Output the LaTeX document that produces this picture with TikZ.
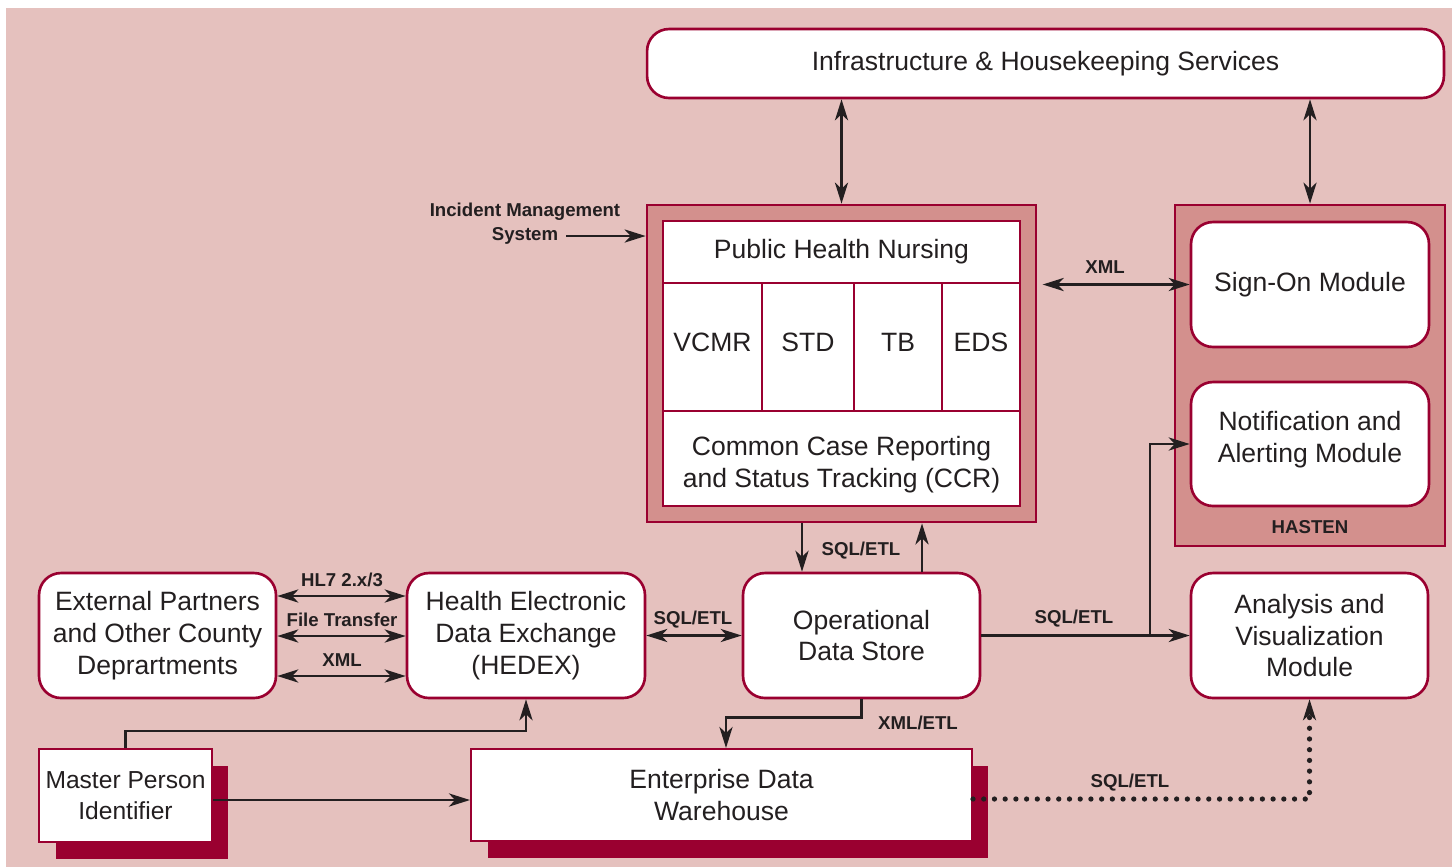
\documentclass[tikz,border=0pt]{standalone}
\usepackage{fontspec}
\setmainfont{Liberation Sans}
\usetikzlibrary{arrows.meta,shadows}
\definecolor{bg}{HTML}{E5C1BE}
\definecolor{panel}{HTML}{D3908D}
\definecolor{crim}{HTML}{9A0030}
\definecolor{ink}{HTML}{231F20}
\begin{document}
\begin{tikzpicture}[x=0.02cm,y=-0.02cm,
  txt/.style={font=\fontsize{15.1}{18.1}\selectfont, text=ink, align=center},
  lbl/.style={font=\bfseries\fontsize{10.6}{13.6}\selectfont, text=ink, align=center, inner sep=0pt},
  rbox/.style={txt, draw=crim, line width=1.5pt, fill=white, rounded corners=0.44cm, inner sep=0pt},
  panelbox/.style={draw=crim, line width=1.6pt, fill=panel, inner sep=0pt},
  cell/.style={txt, draw=crim, line width=1.2pt, fill=white, inner sep=0pt},
  upcell/.style={cell, text depth=5.6pt},
  sbox/.style={txt, draw=crim, line width=1.2pt, fill=white, inner sep=0pt,
     drop shadow={shadow xshift=0.33cm, shadow yshift=-0.33cm, fill=crim, opacity=1}},
  conn/.style={draw=ink, line width=1.4pt},
  tip/.style={},
  arr/.style={conn, -{Stealth[length=12pt,width=7.5pt,inset=3.5pt]}},
  darr/.style={conn, {Stealth[length=12pt,width=7.5pt,inset=3.5pt]}-{Stealth[length=12pt,width=7.5pt,inset=3.5pt]}},
  dotarr/.style={draw=ink, line width=3pt, line cap=round, dash pattern=on 0pt off 6.1pt,
     -{Stealth[length=12pt,width=7.5pt,inset=3.5pt,line width=1.4pt]}},
]
\useasboundingbox (0,0) rectangle (1452,867);
\fill[white] (0,0) rectangle (1452,867);
\fill[bg] (6,8) rectangle (1452,867);

% top
\node[rbox, minimum width=15.94cm, minimum height=1.38cm] (infra) at (1045.5,63.5) {Infrastructure \& Housekeeping Services};

% PHN panel
\node[panelbox, minimum width=7.78cm, minimum height=6.34cm] (phnout) at (841.5,363.5) {};
\node[cell, minimum width=7.14cm, minimum height=1.24cm] (phn) at (841.5,252) {Public Health Nursing};
\node[upcell, minimum width=1.98cm, minimum height=2.56cm] (vcmr) at (712.5,347) {VCMR};
\node[upcell, minimum width=1.84cm, minimum height=2.56cm] (std) at (808,347) {STD};
\node[upcell, minimum width=1.76cm, minimum height=2.56cm] (tb) at (898,347) {TB};
\node[upcell, minimum width=1.56cm, minimum height=2.56cm] (eds) at (981,347) {EDS};
\node[cell, minimum width=7.14cm, minimum height=1.9cm,
  label={[txt, yshift=-3.4pt]center:Common Case Reporting\\and Status Tracking (CCR)}] (ccr) at (841.5,458.5) {};

% HASTEN panel
\node[panelbox, minimum width=5.4cm, minimum height=6.82cm] (hastenout) at (1310,375.5) {};
\node[rbox, minimum width=4.76cm, minimum height=2.5cm] (signon) at (1310,284.5) {Sign-On Module};
\node[rbox, minimum width=4.76cm, minimum height=2.48cm,
  label={[txt, yshift=2.3pt]center:Notification and\\Alerting Module}] (notif) at (1310,444) {};
\node[lbl] (hasten) at (1310,527) {HASTEN};

% middle row
\node[rbox, minimum width=4.74cm, minimum height=2.5cm] (ext) at (157.5,635.5) {External Partners\\and Other County\\Deprartments};
\node[rbox, minimum width=4.76cm, minimum height=2.5cm] (hedex) at (526,635.5) {Health Electronic\\Data Exchange\\(HEDEX)};
\node[rbox, minimum width=4.74cm, minimum height=2.5cm] (ods) at (861.5,635.5) {Operational\\Data Store};
\node[rbox, minimum width=4.74cm, minimum height=2.5cm] (ana) at (1309.5,635.5) {Analysis and\\Visualization\\Module};

% bottom row
\node[sbox, minimum width=3.46cm, minimum height=1.86cm, font=\fontsize{14}{17.6}\selectfont] (mpi) at (125.5,795.5) {Master Person\\Identifier};
\node[sbox, minimum width=10.02cm, minimum height=1.84cm] (edw) at (721.5,795) {Enterprise Data\\Warehouse};

% helper coordinates
\coordinate (incA) at (566,236);
\coordinate (dx) at (802,0);
\coordinate (ux) at (922,0);
\coordinate (y1) at (0,596);
\coordinate (y2) at (0,636);
\coordinate (y3) at (0,676);
\coordinate (j) at (1150,635.5);
\coordinate (ey) at (0,800);
\coordinate (ex) at (726,0);
\coordinate (dy) at (0,799);

% connectors
\draw[darr] (infra.south -| phnout.north) -- (phnout.north);
\draw[darr] (infra.south -| hastenout.north) -- (hastenout.north);
\draw[darr] ([xshift=3pt]phnout.east |- signon.west) -- (signon.west);
\node[lbl] (lxml) at (1105,267) {XML};

\node[lbl] (inc) at (525,224) {Incident Management\\System};
\draw[arr] (incA) -- (incA -| phnout.west);

\draw[arr] (phnout.south -| dx) -- (ods.north -| dx);
\draw[arr] (ods.north -| ux) -- (phnout.south -| ux);
\node[lbl] (lsql1) at (861,551) {SQL/ETL};

\draw[darr] (ext.east |- y1) -- (hedex.west |- y1);
\draw[darr] (ext.east |- y2) -- (hedex.west |- y2);
\draw[darr] (ext.east |- y3) -- (hedex.west |- y3);
\node[lbl] (lhl7) at (342,580) {HL7 2.x/3};
\node[lbl] (lft) at (342,620) {File Transfer};
\node[lbl] (lxml2) at (342,660) {XML};

\draw[darr] (hedex.east) -- (ods.west);
\node[lbl] (lsql2) at (693,620) {SQL/ETL};

\draw[arr] (ods.east) -- (ana.west);
\node[lbl] (lsql3) at (1074,619) {SQL/ETL};
\draw[arr] (j) |- (notif.west);

\draw[arr] (mpi.north) -- ++(0,-17) -| (hedex.south);
\draw[arr] (mpi.east |- ey) -- (edw.west |- ey);

\draw[arr] (ods.south) -- ++(0,18) -| (edw.north -| ex);
\node[lbl] (lxmletl) at (918,723) {XML/ETL};

\draw[dotarr] (edw.east |- dy) -| (ana.south);
\node[lbl] (lsql4) at (1130,783) {SQL/ETL};
\end{tikzpicture}
\end{document}
